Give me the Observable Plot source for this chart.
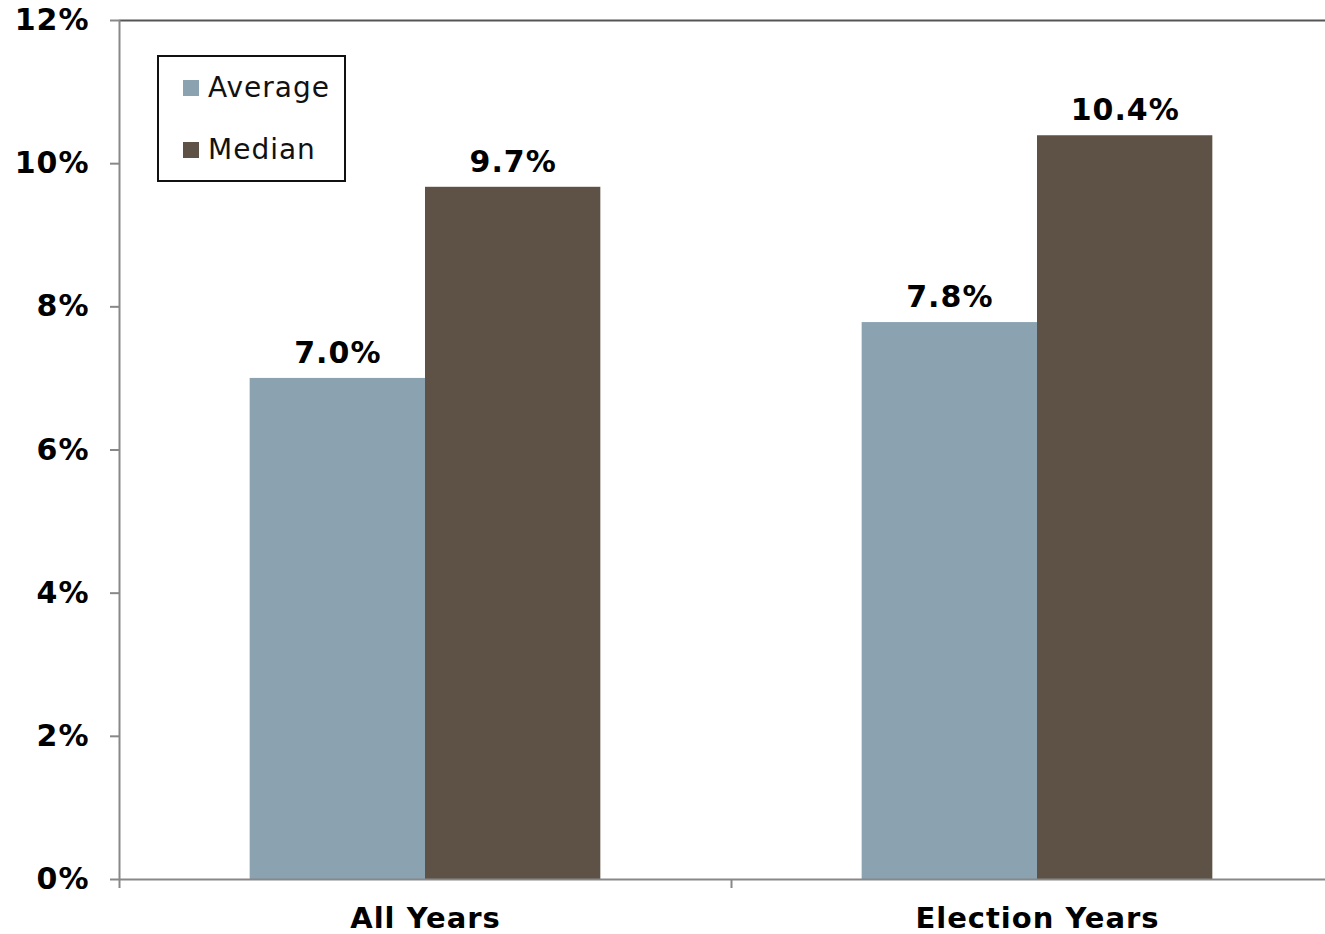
<!DOCTYPE html>
<html>
<head>
<meta charset="utf-8">
<script src="https://cdn.jsdelivr.net/npm/d3@7"></script>
<script src="https://cdn.jsdelivr.net/npm/@observablehq/plot@0.6"></script>
<style>
  html, body { margin: 0; padding: 0; background: #fff; overflow: hidden; }
  #wrap { position: relative; width: 1325px; height: 934px; }
  #legend { position: absolute; left: 157px; top: 55px; width: 189px; height: 127px;
    border: 2px solid #111; background: #fff; font-family: "DejaVu Sans", Verdana, sans-serif;
    font-size: 28px; letter-spacing: 1px; color: #111; box-sizing: border-box; }
  .item { position: absolute; left: 24px; display: flex; align-items: center; }
  .sw { width: 16px; height: 16px; margin-right: 9px; }
</style>
</head>
<body>
<div id="wrap"></div>
<script>
// ---- data ----
const categories = ["All Years", "Election Years"];
const series = ["Average", "Median"];
const averageValues = [7.0, 7.78];
const medianValues = [9.67, 10.39];
const yTicks = [0, 2, 4, 6, 8, 10, 12];
const colors = ["#8BA2B1", "#5E5246"];

const valuesBySeries = [averageValues, medianValues];
const rows = [];
categories.forEach((c, ci) => {
  series.forEach((s, si) => {
    rows.push({category: c, ci, series: s, si, value: valuesBySeries[si][ci]});
  });
});

const barW = 0.2865; // bar width in category units
const x1 = d => d.ci + 0.5 + (d.si - 1) * barW;
const x2 = d => d.ci + 0.5 + d.si * barW;

const chart = Plot.plot({
  width: 1325,
  height: 934,
  marginTop: 20,
  marginBottom: 55,
  marginLeft: 119,
  marginRight: 0,
  style: {fontFamily: "DejaVu Sans, Verdana, sans-serif", fontSize: "28px", fontWeight: "bold", color: "#000", background: "#fff", letterSpacing: "1px"},
  x: {domain: [0, categories.length], range: [119, 119 + 612 * categories.length]},
  y: {domain: [0, 12]},
  color: {domain: series, range: colors},
  marks: [
    Plot.rectY(rows, {x1, x2, y1: 0, y2: "value", fill: "series"}),
    Plot.text(rows, {
      x: d => (x1(d) + x2(d)) / 2, y: "value",
      text: d => d3.format(".1f")(d.value) + "%",
      dy: -25, fontSize: 30, fontWeight: "bold", fill: "#000"
    }),
    Plot.ruleY([12], {stroke: "#555", strokeWidth: 2}),
    Plot.ruleX([0], {stroke: "#888", strokeWidth: 2}),
    Plot.ruleY([0], {stroke: "#888", strokeWidth: 2}),
    Plot.axisY({ticks: yTicks, tickFormat: d => d + "%", tickSize: 9, tickPadding: 21,
      stroke: "#888", strokeWidth: 2, label: null, fontSize: 30, fontWeight: "bold"}),
    Plot.axisX({ticks: d3.range(categories.length + 1), tickFormat: () => "", tickSize: 9,
      stroke: "#888", strokeWidth: 2, label: null}),
    Plot.axisX({ticks: categories.map((c, i) => i + 0.5), tickFormat: v => categories[Math.floor(v)],
      tickSize: 0, tickPadding: 28, label: null, fontSize: 29, fontWeight: "bold"})
  ]
});

const wrap = document.getElementById("wrap");
wrap.appendChild(chart);

const legend = document.createElement("div");
legend.id = "legend";
series.forEach((s, i) => {
  const item = document.createElement("div");
  item.className = "item";
  item.style.top = (i === 0 ? 14 : 76) + "px";
  const sw = document.createElement("span");
  sw.className = "sw";
  sw.style.background = colors[i];
  const label = document.createElement("span");
  label.textContent = s;
  item.appendChild(sw);
  item.appendChild(label);
  legend.appendChild(item);
});
wrap.appendChild(legend);
</script>
</body>
</html>
